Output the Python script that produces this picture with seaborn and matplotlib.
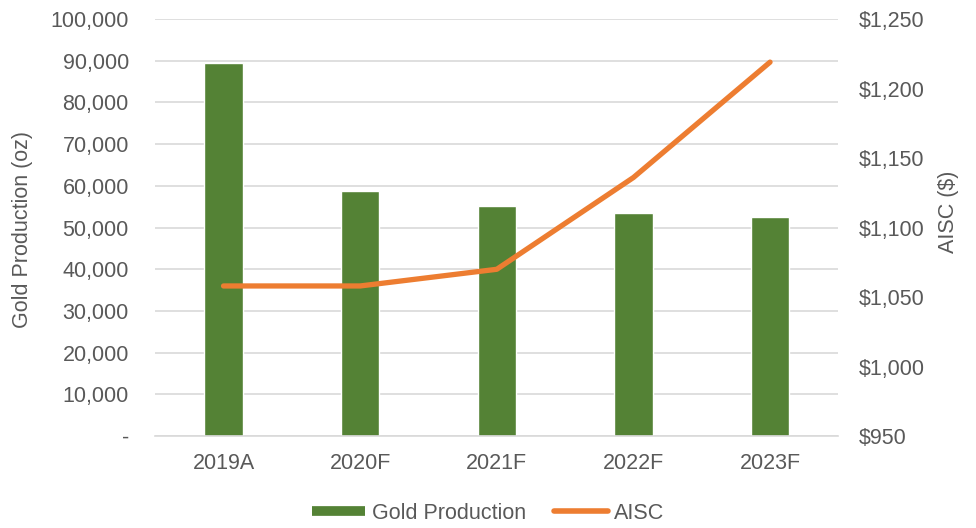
import numpy as np
import matplotlib.pyplot as plt
import seaborn as sns
from matplotlib.lines import Line2D
from matplotlib.ticker import FuncFormatter

years = ['2019A', '2020F', '2021F', '2022F', '2023F']
gold_oz = [89500, 58800, 55200, 53400, 52600]
aisc = [1058, 1058, 1070, 1136, 1219]

green = '#548235'
orange = '#ED7D31'
txt = '#595959'
grid = '#D9D9D9'
fs = 15.5

sns.set_style('white')
plt.rcParams['font.family'] = ['Liberation Sans', 'DejaVu Sans']

fig = plt.figure(figsize=(9.76, 5.28), dpi=100)
ax = fig.add_axes([0.159, 0.174, 0.700, 0.790])

sns.barplot(x=years, y=gold_oz, color=green, width=0.28, saturation=1, ax=ax, zorder=2)
ax.set_xlim(-0.5, 4.5)
ax.set_ylim(0, 100000)
ax.set_yticks(np.arange(0, 100001, 10000))
ax.yaxis.set_major_formatter(FuncFormatter(lambda v, p: '-' if v == 0 else f'{v:,.0f}'))
ax.grid(axis='y', color=grid, lw=1.2, zorder=0)
ax.set_axisbelow(True)
ax.set_ylabel('Gold Production (oz)', color=txt, fontsize=fs)
ax.yaxis.set_label_coords(-0.179, 0.496)
ax.set_xlabel('')

ax2 = ax.twinx()
sns.lineplot(x=np.arange(len(years)), y=aisc, color=orange, lw=3.8, ax=ax2,
             solid_capstyle='round', zorder=3)
ax2.set_ylim(950, 1250)
ax2.set_yticks(np.arange(950, 1251, 50))
ax2.yaxis.set_major_formatter(FuncFormatter(lambda v, p: f'${v:,.0f}'))
ax2.set_ylabel('AISC ($)', color=txt, fontsize=fs)
ax2.yaxis.set_label_coords(1.146, 0.537)
ax2.set_xlim(-0.5, 4.5)

for a in (ax, ax2):
    for s in a.spines.values():
        s.set_visible(False)
    a.tick_params(length=0, colors=txt, labelsize=fs)
ax.spines['bottom'].set_visible(True)
ax.spines['bottom'].set_color(grid)
ax.spines['bottom'].set_linewidth(1.2)
ax.tick_params(axis='y', pad=19)
ax.tick_params(axis='x', pad=12)
ax2.tick_params(axis='y', pad=15)

handles = [Line2D([], [], color=green, lw=7, solid_capstyle='butt'),
           Line2D([], [], color=orange, lw=4, solid_capstyle='round')]
leg = fig.legend(handles, ['Gold Production', 'AISC'], loc='center', bbox_to_anchor=(0.5, 0.028),
                 ncol=2, frameon=False, fontsize=fs, handlelength=2.5, handletextpad=0.3,
                 columnspacing=1.3)
for t in leg.get_texts():
    t.set_color(txt)

fig.savefig('out.png', dpi=100)
